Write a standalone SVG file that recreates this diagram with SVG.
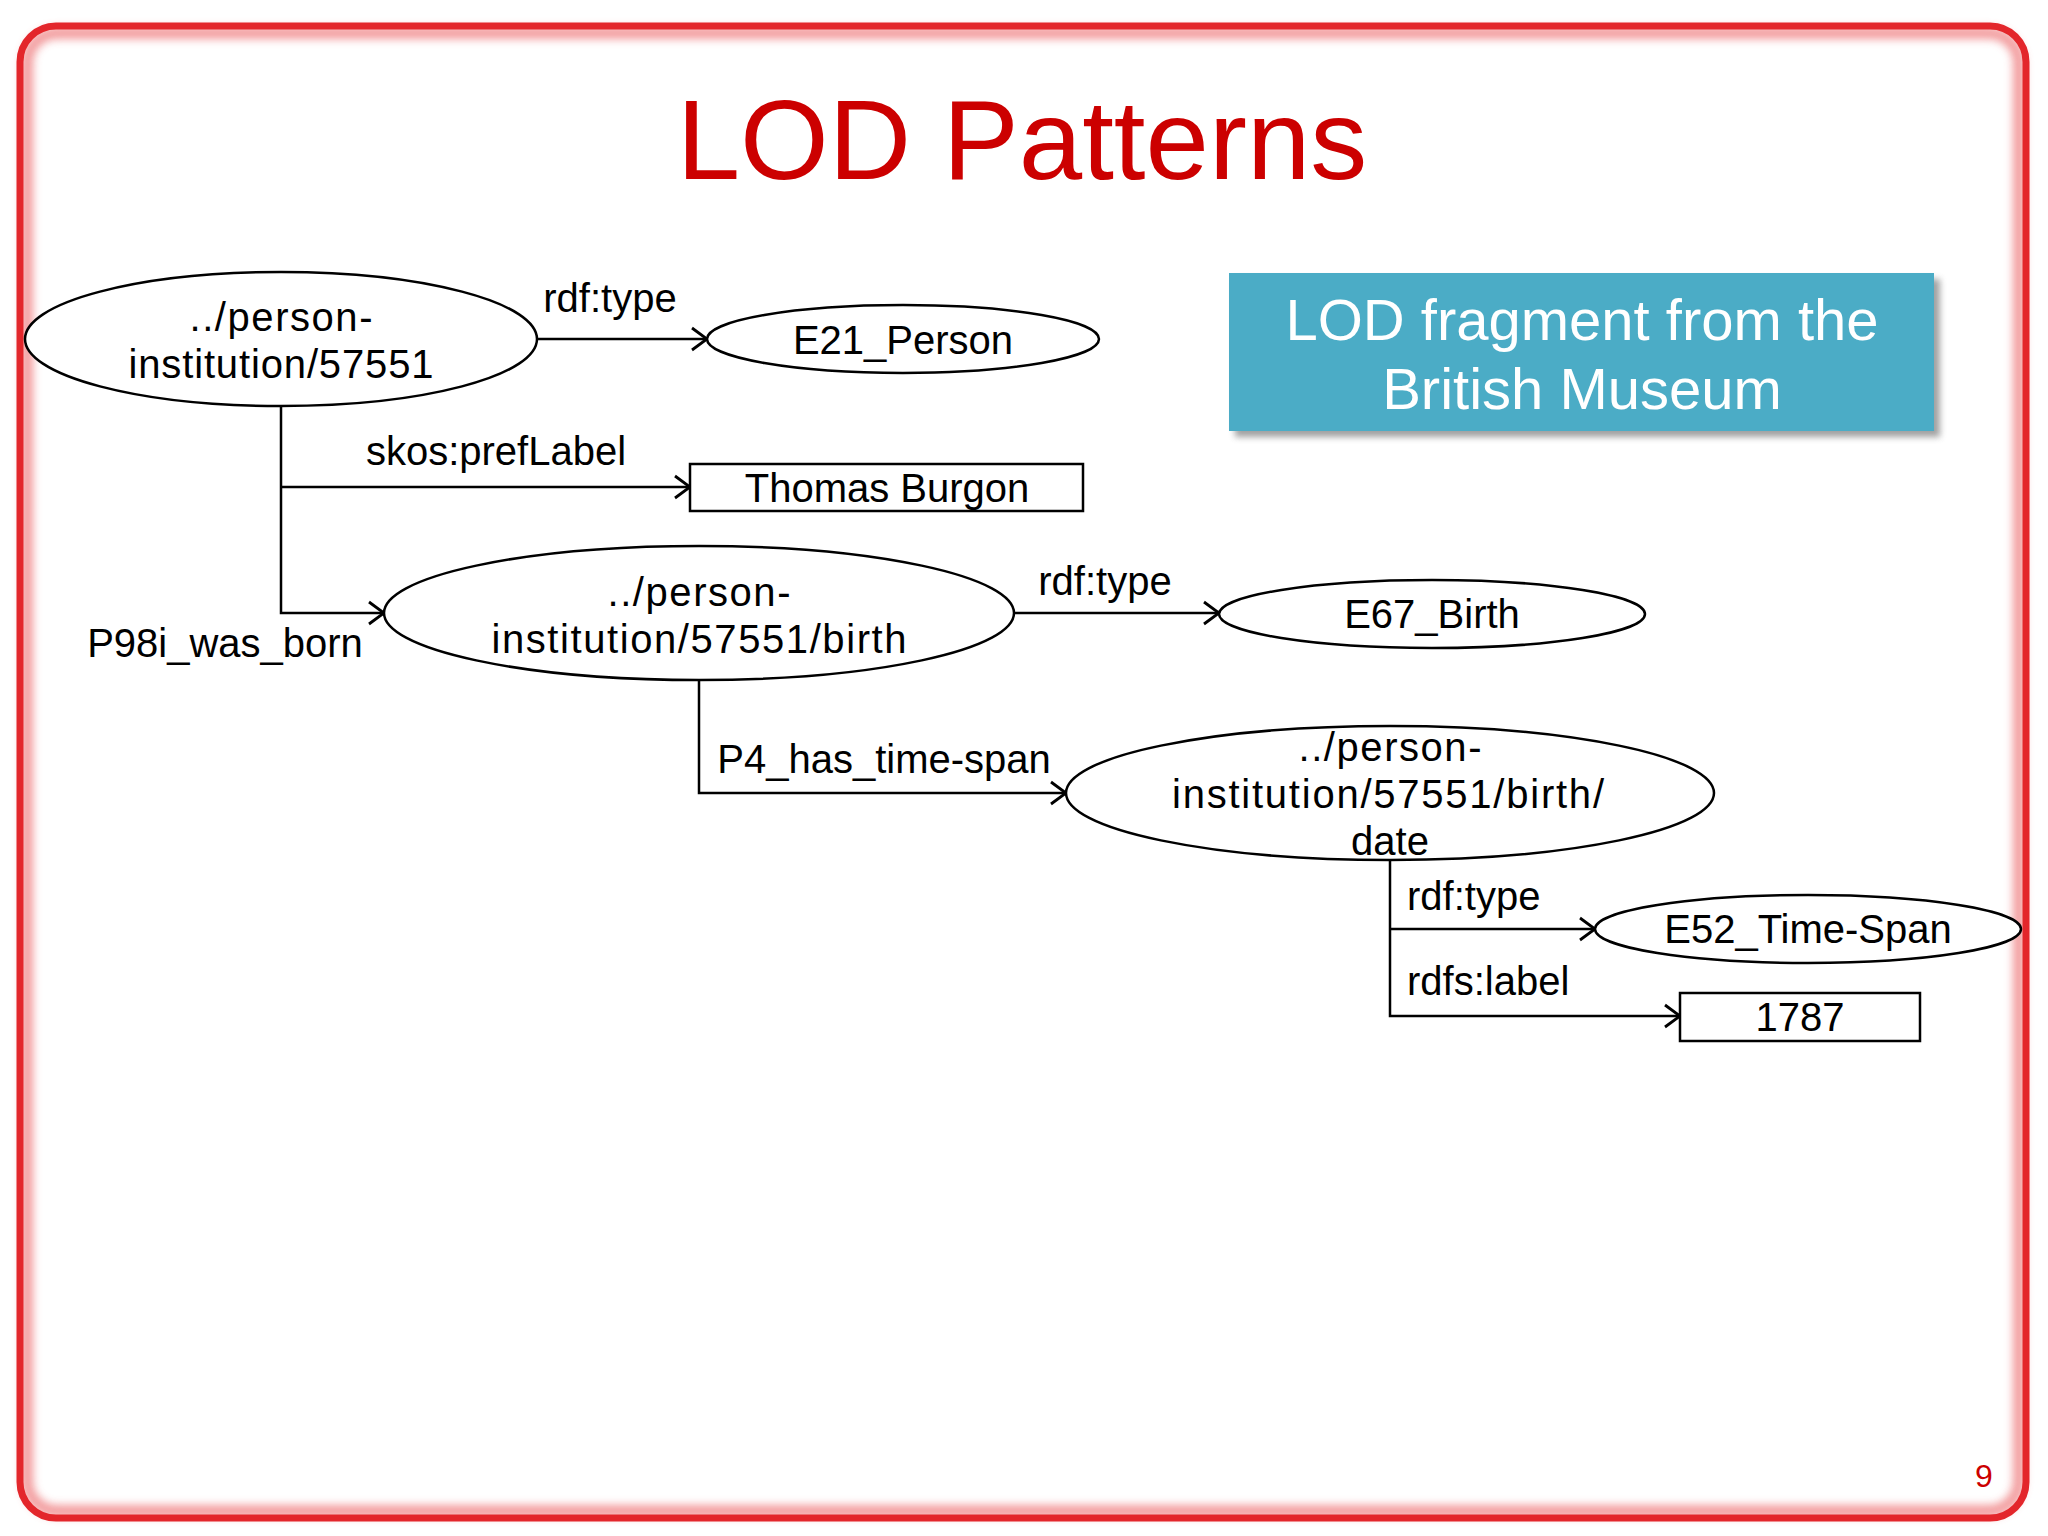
<svg xmlns="http://www.w3.org/2000/svg" width="2048" height="1536" viewBox="0 0 2048 1536">
<defs>
<style>
.lbl{font-family:"Liberation Sans",Arial,sans-serif;font-size:40px;fill:#000}
.mid{text-anchor:middle}
.node{fill:#fff;stroke:#000;stroke-width:2.5}
.conn{fill:none;stroke:#000;stroke-width:2.5}
</style>
<marker id="arr" markerUnits="userSpaceOnUse" markerWidth="20" markerHeight="26" viewBox="0 0 20 26" refX="17" refY="13" orient="auto">
<path d="M2,2 L17,13 L2,24" fill="none" stroke="#000" stroke-width="2.8"/>
</marker>
<filter id="sh" x="-5%" y="-10%" width="115%" height="130%">
<feGaussianBlur stdDeviation="3"/>
</filter>
<filter id="glow" x="-2%" y="-2%" width="104%" height="104%">
<feGaussianBlur stdDeviation="4"/>
</filter>
</defs>
<rect width="2048" height="1536" fill="#fff"/>
<g id="frame">
<rect x="27" y="33" width="1992" height="1478" rx="30" fill="none" stroke="#F08A8C" stroke-width="12" filter="url(#glow)" opacity="0.85"/>
<rect x="20" y="26" width="2006" height="1492" rx="36" fill="none" stroke="#E3262B" stroke-width="7"/>
</g>
<text x="1022" y="179" font-family="'Liberation Sans',Arial,sans-serif" font-size="114" fill="#CC0000" text-anchor="middle">LOD Patterns</text>
<g id="callout">
<rect x="1235" y="279" width="705" height="158" fill="#8a8a8a" filter="url(#sh)" opacity="0.8"/>
<rect x="1229" y="273" width="705" height="158" fill="#4BACC6"/>
<text x="1582" y="340" font-family="'Liberation Sans',Arial,sans-serif" font-size="58" fill="#fff" text-anchor="middle">LOD fragment from the</text>
<text x="1582" y="409" font-family="'Liberation Sans',Arial,sans-serif" font-size="58" fill="#fff" text-anchor="middle">British Museum</text>
</g>
<g id="connectors">
<path class="conn" d="M537,339 H707" marker-end="url(#arr)"/>
<path class="conn" d="M281,406 V613 H384" marker-end="url(#arr)"/>
<path class="conn" d="M281,487 H690" marker-end="url(#arr)"/>
<path class="conn" d="M1015,613 H1219" marker-end="url(#arr)"/>
<path class="conn" d="M699,681 V793 H1066" marker-end="url(#arr)"/>
<path class="conn" d="M1390,861 V1016 H1680" marker-end="url(#arr)"/>
<path class="conn" d="M1390,929 H1595" marker-end="url(#arr)"/>
<text class="lbl mid" x="610" y="312">rdf:type</text>
<text class="lbl mid" x="496" y="465">skos:prefLabel</text>
<text class="lbl mid" x="225" y="657">P98i_was_born</text>
<text class="lbl mid" x="1105" y="595">rdf:type</text>
<text class="lbl mid" x="884" y="773">P4_has_time-span</text>
<text class="lbl" x="1407" y="910">rdf:type</text>
<text class="lbl" x="1407" y="995">rdfs:label</text>
</g>
<g id="n-person">
<ellipse class="node" cx="281" cy="339" rx="256" ry="67"/>
<text class="lbl mid" x="281" y="331" textLength="183" lengthAdjust="spacing">../person-</text>
<text class="lbl mid" x="281" y="378" textLength="305" lengthAdjust="spacing">institution/57551</text>
</g>
<g id="n-e21">
<ellipse class="node" cx="903" cy="339" rx="196" ry="34"/>
<text class="lbl mid" x="903" y="354">E21_Person</text>
</g>
<g id="n-burgon">
<rect class="node" x="690" y="464" width="393" height="47"/>
<text class="lbl mid" x="887" y="502">Thomas Burgon</text>
</g>
<g id="n-birth">
<ellipse class="node" cx="699" cy="613" rx="315" ry="67"/>
<text class="lbl mid" x="699" y="606" textLength="183" lengthAdjust="spacing">../person-</text>
<text class="lbl mid" x="699" y="653" textLength="415" lengthAdjust="spacing">institution/57551/birth</text>
</g>
<g id="n-e67">
<ellipse class="node" cx="1432" cy="614" rx="213" ry="34"/>
<text class="lbl mid" x="1432" y="628">E67_Birth</text>
</g>
<g id="n-date">
<ellipse class="node" cx="1390" cy="793" rx="324" ry="67"/>
<text class="lbl mid" x="1390" y="761" textLength="183" lengthAdjust="spacing">../person-</text>
<text class="lbl mid" x="1388" y="808" textLength="432" lengthAdjust="spacing">institution/57551/birth/</text>
<text class="lbl mid" x="1390" y="855">date</text>
</g>
<g id="n-e52">
<ellipse class="node" cx="1808" cy="929" rx="213" ry="34"/>
<text class="lbl mid" x="1808" y="943">E52_Time-Span</text>
</g>
<g id="n-1787">
<rect class="node" x="1680" y="993" width="240" height="48"/>
<text class="lbl mid" x="1800" y="1031">1787</text>
</g>
<text x="1984" y="1487" font-family="'Liberation Sans',Arial,sans-serif" font-size="32" fill="#CC0000" text-anchor="middle">9</text>
</svg>
